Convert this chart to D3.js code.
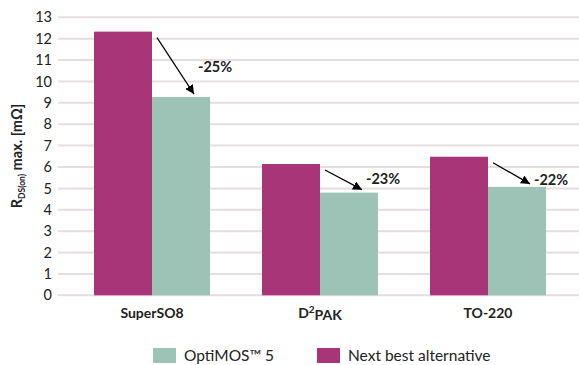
<!DOCTYPE html>
<html><head><meta charset="utf-8">
<script src="https://cdn.jsdelivr.net/npm/d3@7"></script>
<style>
body{margin:0;background:#fff;}
text{font-family:Lato, "Noto Sans", sans-serif;}
</style></head>
<body><svg id="c" width="579" height="365"></svg>
<script>
const categories = ["SuperSO8", "D²PAK", "TO-220"];
const nextBest = [12.33, 6.14, 6.48];
const optiMOS = [9.27, 4.8, 5.07];
const reductions = ["-25%", "-23%", "-22%"];
const labelAnchors = [10.7, 5.45, 5.4];
const yTicks = d3.range(0, 14);
const seriesNames = ["OptiMOS™ 5", "Next best alternative"];
const colors = {opti: "#9cc3b6", next: "#a83577"};

const svg = d3.select("#c");
const x = d3.scaleBand().domain(categories).range([68, 572]).paddingInner(0).paddingOuter(0);
const y = d3.scaleLinear().domain([0, 13]).range([295.3, 17.3]);
const barW = 58;

// grid
svg.append("g").selectAll("line").data(yTicks).join("line")
  .attr("x1", 58).attr("x2", 579)
  .attr("y1", d => y(d)).attr("y2", d => y(d))
  .attr("stroke", "#e6dde1").attr("stroke-width", 2);

// y axis labels
const yAxis = d3.axisLeft(y).tickValues(yTicks).tickSize(0).tickPadding(0);
const ga = svg.append("g").attr("transform", "translate(52,0)").call(yAxis);
ga.select(".domain").remove();
ga.selectAll("text").attr("font-size", 14.5).attr("fill", "#222").style("font-family", "Lato, sans-serif");

// bars
const g = svg.append("g");
categories.forEach((c, i) => {
  const cx = x(c) + x.bandwidth() / 2;
  g.append("rect").attr("x", cx - barW).attr("width", barW)
    .attr("y", y(nextBest[i])).attr("height", y(0) - y(nextBest[i])).attr("fill", colors.next);
  g.append("rect").attr("x", cx).attr("width", barW)
    .attr("y", y(optiMOS[i])).attr("height", y(0) - y(optiMOS[i])).attr("fill", colors.opti);
});

// arrows
svg.append("defs").append("marker").attr("id", "ah")
  .attr("viewBox", "0 0 10 10").attr("refX", 10).attr("refY", 5)
  .attr("markerWidth", 9).attr("markerHeight", 9).attr("markerUnits", "userSpaceOnUse")
  .attr("orient", "auto")
  .append("path").attr("d", "M0,0 L10,5 L0,10 Z").attr("fill", "#000");

categories.forEach((c, i) => {
  const cx = x(c) + x.bandwidth() / 2;
  svg.append("line")
    .attr("x1", cx + 5).attr("y1", y(nextBest[i]) + 6)
    .attr("x2", cx + 42).attr("y2", y(optiMOS[i]) - 3)
    .attr("stroke", "#000").attr("stroke-width", 1.2)
    .attr("marker-end", "url(#ah)");
  svg.append("text").attr("x", cx + 46).attr("y", y(labelAnchors[i]))
    .attr("dy", "0.35em").attr("font-size", 14.5).attr("font-weight", "bold")
    .attr("fill", "#222").text(reductions[i]);
});

// category labels
categories.forEach((c, i) => {
  const cx = x(c) + x.bandwidth() / 2;
  const t = svg.append("text").attr("x", cx).attr("y", 313).attr("dy", "0.35em")
    .attr("text-anchor", "middle").attr("font-size", 14).attr("font-weight", "bold").attr("fill", "#222");
  if (c === "D²PAK") {
    t.append("tspan").text("D");
    t.append("tspan").attr("font-size", 10).attr("dy", "-0.45em").text("2");
    t.append("tspan").attr("dy", "0.45em").text("PAK");
  } else t.text(c);
});

// y title
const yt = svg.append("text").attr("transform", "translate(22,156) rotate(-90)")
  .attr("text-anchor", "middle").attr("font-size", 14.5).attr("font-weight", "bold").attr("fill", "#222");
yt.append("tspan").text("R");
yt.append("tspan").attr("font-size", 8.5).attr("dy", "3").text("DS(on)");
yt.append("tspan").attr("dy", "-3").text(" max. [mΩ]");

// legend
const legend = [
  {name: seriesNames[0], color: colors.opti, x: 153},
  {name: seriesNames[1], color: colors.next, x: 317}
];
legend.forEach(l => {
  svg.append("rect").attr("x", l.x).attr("y", 348).attr("width", 23).attr("height", 15).attr("fill", l.color);
  svg.append("text").attr("x", l.x + 31).attr("y", 356).attr("dy", "0.35em")
    .attr("font-size", 15.5).attr("fill", "#222").text(l.name);
});
</script></body></html>
